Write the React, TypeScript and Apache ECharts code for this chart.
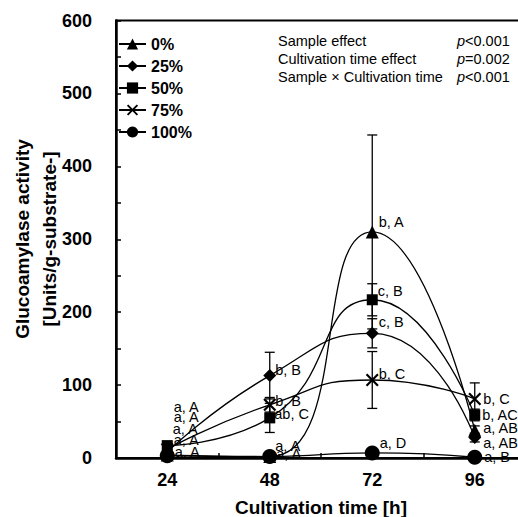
import React, { useEffect, useRef } from 'react';
import * as echarts from 'echarts';

const hours = [24, 48, 72, 96];
const xTickLabels = [24, 48, 72, 96];
const seriesNames = ['0%', '25%', '50%', '75%', '100%'];
const mean0 = [4, 2, 310, 38];
const mean25 = [8, 113, 171, 28];
const mean50 = [17, 55, 217, 59];
const mean75 = [12, 73, 107, 81];
const mean100 = [3, 2, 7, 1];
const sd0 = [3, 2, 133, 6];
const sd25 = [4, 32, 20, 6];
const sd50 = [5, 20, 22, 8];
const sd75 = [4, 10, 39, 22];
const sd100 = [1, 1, 3, 1];
const letters0 = ['a, A', 'a, A', 'b, A', 'a, AB'];
const letters25 = ['a, A', 'b, B', 'c, B', 'a, AB'];
const letters50 = ['a, A', 'ab, C', 'c, B', 'b, AC'];
const letters75 = ['a, A', 'b, B', 'b, C', 'b, C'];
const letters100 = ['a, A', 'a, A', 'a, D', 'a, B'];
const statNames = ['Sample effect', 'Cultivation time effect', 'Sample × Cultivation time'];
const statValues = ['<0.001', '=0.002', '<0.001'];
const yTitle = 'Glucoamylase activity\n[Units/g-substrate-]';
const xTitle = 'Cultivation time [h]';

// label layout (pixel offsets), not data
const labelDx = [0, -1, 0, 2];
const labelDy = [
  [-48, -11, -10, -2],
  [-35, -6, -11, 5],
  [-17, -4, -9, 0],
  [-9, -4, -6, 0],
  [-4, -3, -10, 0],
];

const FONT = '"Liberation Sans", Arial, sans-serif';
const crossPath = 'path://M0,1.2L1.2,0L5,3.8L8.8,0L10,1.2L6.2,5L10,8.8L8.8,10L5,6.2L1.2,10L0,8.8L3.8,5Z';

export default function App() {
  const ref = useRef<HTMLDivElement>(null);
  useEffect(() => {
    if (!ref.current) return;
    const chart = echarts.init(ref.current, undefined, { renderer: 'svg' });
    const means = [mean0, mean25, mean50, mean75, mean100];
    const sds = [sd0, sd25, sd50, sd75, sd100];
    const letters = [letters0, letters25, letters50, letters75, letters100];
    const symbols = ['triangle', 'diamond', 'rect', crossPath, 'circle'];
    const sizes = [13, 13, 11, 13, 15];

    const errData: number[][] = [];
    means.forEach((m, s) => m.forEach((v, i) => errData.push([hours[i], v, sds[s][i]])));

    const lineSeries = seriesNames.map((name, s) => ({
      name,
      type: 'line',
      smooth: 0.55,
      symbol: symbols[s],
      symbolSize: sizes[s],
      z: 3,
      lineStyle: { color: '#000', width: 1.3 },
      itemStyle: { color: '#000' },
      label: {
        show: true,
        position: 'right',
        distance: 0,
        color: '#000',
        fontSize: 14.5,
        fontFamily: FONT,
        formatter: (p: any) => letters[s][p.dataIndex],
      },
      data: hours.map((h, i) => ({
        value: [h, means[s][i]],
        label: { offset: [labelDx[i], labelDy[s][i]] },
      })),
    }));

    const option: any = {
      animation: false,
      grid: {
        left: 116, top: 20.5, bottom: 59, right: -8,
        outerBoundsMode: 'none', containLabel: false,
        show: true, borderColor: '#000', borderWidth: 2,
      },
      legend: {
        data: seriesNames,
        orient: 'vertical',
        left: 113,
        top: 31,
        itemWidth: 27,
        itemHeight: 14,
        itemGap: 6,
        textStyle: { fontSize: 16, fontWeight: 'bold', color: '#000', fontFamily: FONT },
      },
      xAxis: {
        type: 'value',
        min: 12,
        max: 108,
        interval: 12,
        name: xTitle,
        nameLocation: 'middle',
        nameGap: 40,
        nameTextStyle: { fontSize: 19, fontWeight: 'bold', color: '#000', fontFamily: FONT },
        axisLine: { show: true, lineStyle: { color: '#000', width: 2.5 } },
        axisTick: { show: true, inside: true, length: 5, lineStyle: { color: '#000', width: 1.5 } },
        axisLabel: {
          margin: 13,
          fontSize: 18,
          fontWeight: 'bold',
          color: '#000',
          fontFamily: FONT,
          formatter: (v: number) => (xTickLabels.includes(v) ? String(v) : ''),
        },
        splitLine: { show: false },
      },
      yAxis: {
        type: 'value',
        min: 0,
        max: 600,
        interval: 100,
        axisLine: { show: true, lineStyle: { color: '#000', width: 2.5 } },
        axisTick: { show: true, inside: true, length: 5, lineStyle: { color: '#000', width: 1.5 } },
        minorTick: { show: true, splitNumber: 2, length: 5, lineStyle: { color: '#000', width: 1.5 } },
        axisLabel: { margin: 24, fontSize: 18, fontWeight: 'bold', color: '#000', fontFamily: FONT },
        splitLine: { show: false },
      },
      graphic: [
        {
          type: 'text',
          x: 36,
          y: 239,
          rotation: Math.PI / 2,
          style: {
            text: yTitle,
            fontSize: 19,
            fontWeight: 'bold',
            fontFamily: FONT,
            fill: '#000',
            lineHeight: 27,
            align: 'center',
            verticalAlign: 'middle',
          },
        },
        ...statNames.map((t, i) => ({
          type: 'text',
          left: 278,
          top: 33 + i * 18,
          style: { text: t, fontSize: 14.5, fontFamily: FONT, fill: '#000' },
        })),
        ...statValues.map((t, i) => ({
          type: 'text',
          left: 457,
          top: 33 + i * 18,
          style: {
            text: '{i|p}' + t,
            fontSize: 14.5,
            fontFamily: FONT,
            fill: '#000',
            rich: { i: { fontStyle: 'italic', fontSize: 14.5, fontFamily: FONT, fill: '#000' } },
          },
        })),
      ],
      series: [
        {
          name: 'err',
          type: 'custom',
          z: 2,
          renderItem: (params: any, api: any) => {
            const x = api.value(0);
            const m = api.value(1);
            const s = api.value(2);
            const top = api.coord([x, m + s]);
            const bot = api.coord([x, Math.max(m - s, 0)]);
            const w = 5;
            const style = { stroke: '#000', lineWidth: 1.3 };
            return {
              type: 'group',
              children: [
                { type: 'line', shape: { x1: top[0], y1: top[1], x2: bot[0], y2: bot[1] }, style },
                { type: 'line', shape: { x1: top[0] - w, y1: top[1], x2: top[0] + w, y2: top[1] }, style },
                { type: 'line', shape: { x1: bot[0] - w, y1: bot[1], x2: bot[0] + w, y2: bot[1] }, style },
              ],
            };
          },
          data: errData,
        },
        ...lineSeries,
      ],
    };
    chart.setOption(option);
    return () => chart.dispose();
  }, []);
  return <div ref={ref} style={{ position: 'fixed', left: 0, top: 0, width: 518, height: 517, background: '#fff' }} />;
}
